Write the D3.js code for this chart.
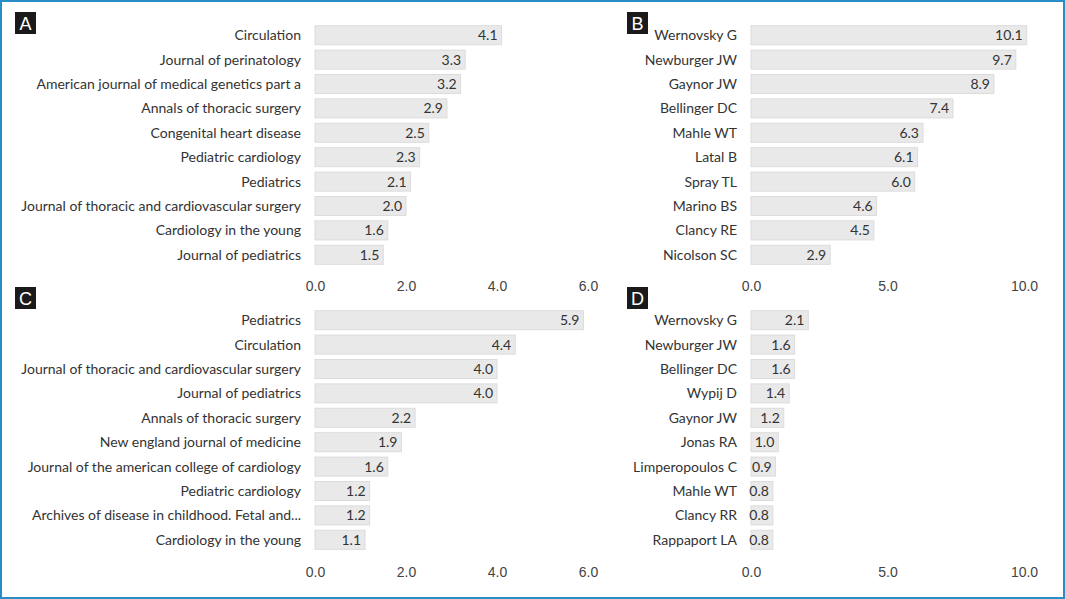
<!DOCTYPE html>
<html>
<head>
<meta charset="utf-8">
<script src="https://cdn.jsdelivr.net/npm/d3@7"></script>
<style>
  body { margin: 0; background: #fff; }
  svg { display: block; font-family: Lato, "Open Sans", sans-serif; }
  .cat { font-size: 14px; fill: #333; }
  .val { font-size: 14px; fill: #333; }
  .tick text { font-size: 14px; fill: #444; }
</style>
</head>
<body>
<div id="chart"></div>
<script>
// Panel data
// ======================================================

var journalsA = ["Circulation", "Journal of perinatology", "American journal of medical genetics part a",
  "Annals of thoracic surgery", "Congenital heart disease", "Pediatric cardiology", "Pediatrics",
  "Journal of thoracic and cardiovascular surgery", "Cardiology in the young", "Journal of pediatrics"];
var valuesA = [4.1, 3.3, 3.2, 2.9, 2.5, 2.3, 2.1, 2.0, 1.6, 1.5];

var authorsB = ["Wernovsky G", "Newburger JW", "Gaynor JW", "Bellinger DC", "Mahle WT",
  "Latal B", "Spray TL", "Marino BS", "Clancy RE", "Nicolson SC"];
var valuesB = [10.1, 9.7, 8.9, 7.4, 6.3, 6.1, 6.0, 4.6, 4.5, 2.9];

var journalsC = ["Pediatrics", "Circulation", "Journal of thoracic and cardiovascular surgery",
  "Journal of pediatrics", "Annals of thoracic surgery", "New england journal of medicine",
  "Journal of the american college of cardiology", "Pediatric cardiology",
  "Archives of disease in childhood. Fetal and...", "Cardiology in the young"];
var valuesC = [5.9, 4.4, 4.0, 4.0, 2.2, 1.9, 1.6, 1.2, 1.2, 1.1];

var authorsD = ["Wernovsky G", "Newburger JW", "Bellinger DC", "Wypij D", "Gaynor JW",
  "Jonas RA", "Limperopoulos C", "Mahle WT", "Clancy RR", "Rappaport LA"];
var valuesD = [2.1, 1.6, 1.6, 1.4, 1.2, 1.0, 0.9, 0.8, 0.8, 0.8];

var ticksSmall = [0, 2, 4, 6];
var ticksLarge = [0, 5, 10];

// Canvas
// ======================================================

var width = 1065;
var height = 599;

var svg = d3.select("#chart")
  .append("svg")
  .attr("width", width)
  .attr("height", height);

// blue frame
svg.append("rect")
  .attr("x", 1)
  .attr("y", 1)
  .attr("width", width - 2)
  .attr("height", height - 2)
  .attr("fill", "none")
  .attr("stroke", "#2a8dc5")
  .attr("stroke-width", 2);

// Panel function
// ======================================================

function panel(opts) {
  var g = svg.append("g");

  var xScale = d3.scaleLinear()
    .domain([0, opts.max])
    .range([opts.x0, opts.x1]);

  var yScale = d3.scaleBand()
    .domain(opts.cats)
    .range([opts.y0, opts.y1])
    .paddingInner(0.22)
    .paddingOuter(0.11);

  var rows = opts.cats.map(function(c, i) {
    return { cat: c, val: opts.vals[i] };
  });

  g.selectAll("rect.bar")
    .data(rows)
    .enter()
    .append("rect")
    .attr("class", "bar")
    .attr("x", xScale(0))
    .attr("y", function(d) { return yScale(d.cat); })
    .attr("width", function(d) { return xScale(d.val) - xScale(0); })
    .attr("height", yScale.bandwidth())
    .attr("fill", "#e9e9e9")
    .attr("stroke", "#dcdcdc")
    .attr("stroke-width", 1);

  g.selectAll("text.val")
    .data(rows)
    .enter()
    .append("text")
    .attr("class", "val")
    .attr("x", function(d) { return xScale(d.val) - 4; })
    .attr("y", function(d) { return yScale(d.cat) + yScale.bandwidth() / 2; })
    .attr("dy", "0.36em")
    .attr("text-anchor", "end")
    .text(function(d) { return d.val.toFixed(1); });

  g.selectAll("text.cat")
    .data(rows)
    .enter()
    .append("text")
    .attr("class", "cat")
    .attr("x", opts.x0 - 14)
    .attr("y", function(d) { return yScale(d.cat) + yScale.bandwidth() / 2; })
    .attr("dy", "0.36em")
    .attr("text-anchor", "end")
    .text(function(d) { return d.cat; });

  var xAxis = d3.axisBottom(xScale)
    .tickValues(opts.ticks)
    .tickSize(0)
    .tickPadding(0)
    .tickFormat(d3.format(".1f"));

  g.append("g")
    .attr("transform", "translate(0," + opts.axisY + ")")
    .call(xAxis)
    .call(function(a) { a.select(".domain").remove(); });

  // panel letter
  g.append("rect")
    .attr("x", opts.lx)
    .attr("y", opts.ly)
    .attr("width", 21)
    .attr("height", 22)
    .attr("fill", "#1a1a1a");

  g.append("text")
    .attr("x", opts.lx + 10.5)
    .attr("y", opts.ly + 18)
    .attr("text-anchor", "middle")
    .attr("font-family", "Liberation Sans, Arial, sans-serif")
    .attr("font-size", 18)
    .attr("fill", "#fff")
    .text(opts.letter);
}

panel({ letter: "A", lx: 15, ly: 12, cats: journalsA, vals: valuesA, max: 6, ticks: ticksSmall,
  x0: 315, x1: 588, y0: 23, y1: 267, axisY: 281 });
panel({ letter: "B", lx: 627, ly: 12, cats: authorsB, vals: valuesB, max: 10, ticks: ticksLarge,
  x0: 751, x1: 1024, y0: 23, y1: 267, axisY: 281 });
panel({ letter: "C", lx: 15, ly: 287, cats: journalsC, vals: valuesC, max: 6, ticks: ticksSmall,
  x0: 315, x1: 588, y0: 308, y1: 552, axisY: 567 });
panel({ letter: "D", lx: 627, ly: 287, cats: authorsD, vals: valuesD, max: 10, ticks: ticksLarge,
  x0: 751, x1: 1024, y0: 308, y1: 552, axisY: 567 });
</script>
</body>
</html>
